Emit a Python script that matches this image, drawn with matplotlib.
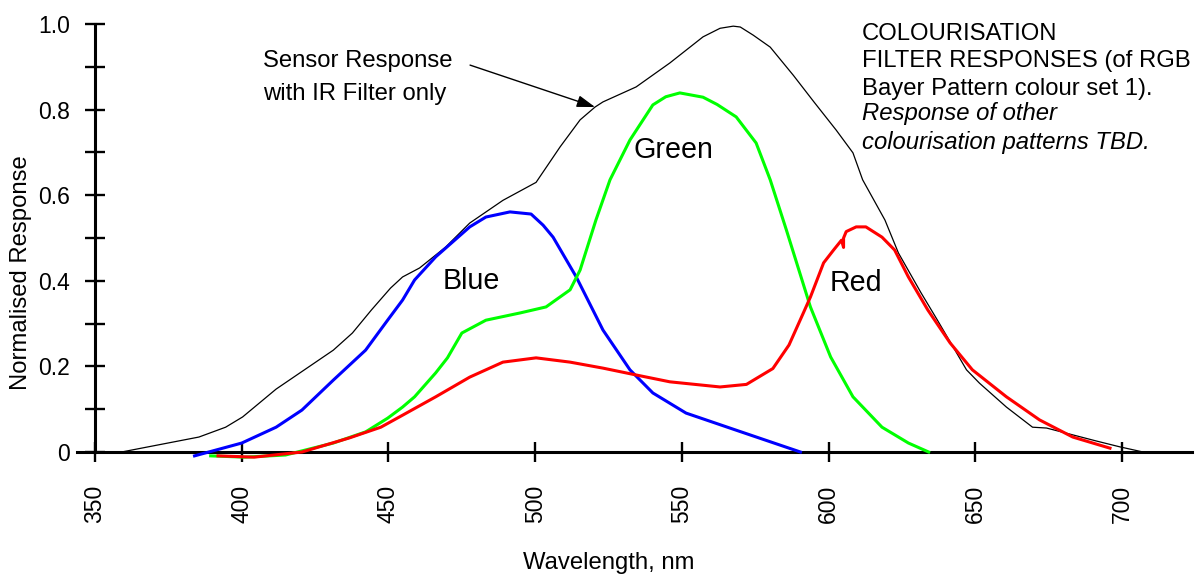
import matplotlib.pyplot as plt

plt.rcParams['font.family'] = ['Liberation Sans', 'DejaVu Sans']

# sensor response with IR filter only (nm, normalised)
sensor_wl = [359.0, 385.4, 394.5, 400.3, 411.7, 431.2, 437.7, 444.2, 450.7, 454.8,
             460.6, 469.5, 477.7, 489.0, 500.3, 508.5, 515.3, 520.4, 523.1, 534.4,
             545.9, 557.2, 563.0, 567.5, 569.9, 574.3, 580.1, 588.0, 595.0, 602.6,
             608.3, 611.6, 619.2, 623.8, 631.5, 637.1, 647.0, 651.4, 660.6, 669.5,
             674.3, 691.1, 699.3, 707.2]
sensor_resp = [0.0, 0.035, 0.058, 0.082, 0.147, 0.238, 0.278, 0.332, 0.383, 0.409,
               0.430, 0.479, 0.535, 0.588, 0.630, 0.713, 0.776, 0.806, 0.818, 0.853,
               0.909, 0.970, 0.990, 0.995, 0.993, 0.974, 0.946, 0.880, 0.818, 0.752,
               0.699, 0.636, 0.542, 0.465, 0.372, 0.308, 0.192, 0.161, 0.105, 0.058,
               0.056, 0.026, 0.012, 0.0]

blue_wl = [383.9, 400.0, 411.7, 420.5, 431.2, 442.2, 449.7, 454.8, 458.9, 466.1,
           477.7, 483.2, 491.4, 498.6, 502.7, 506.1, 514.0, 523.1, 532.3, 540.1,
           551.4, 568.5, 590.4]
blue_resp = [-0.009, 0.021, 0.058, 0.098, 0.168, 0.238, 0.308, 0.355, 0.402, 0.456,
             0.526, 0.549, 0.561, 0.556, 0.530, 0.502, 0.409, 0.285, 0.192, 0.138,
             0.091, 0.051, 0.0]

green_wl = [389.4, 401.0, 414.9, 431.2, 442.2, 449.7, 454.8, 458.9, 466.1, 470.1,
            475.0, 483.2, 494.9, 503.7, 511.9, 515.3, 520.7, 525.5, 532.3, 540.1,
            544.5, 549.3, 557.2, 562.0, 568.5, 575.3, 580.1, 585.6, 593.8, 600.7,
            608.3, 618.2, 627.2, 634.1]
green_resp = [-0.009, -0.012, -0.007, 0.021, 0.047, 0.079, 0.105, 0.129, 0.185, 0.220,
              0.278, 0.308, 0.325, 0.339, 0.379, 0.425, 0.542, 0.636, 0.729, 0.811,
              0.830, 0.839, 0.829, 0.812, 0.783, 0.722, 0.636, 0.519, 0.339, 0.222,
              0.129, 0.058, 0.021, 0.0]

red_wl = [391.9, 404.2, 420.5, 436.7, 447.4, 454.8, 466.1, 477.7, 489.0, 500.3,
          511.9, 523.1, 534.4, 545.9, 563.0, 572.0, 581.0, 586.5, 591.4, 593.8,
          598.3, 601.7, 604.4, 605.1, 605.1, 606.0, 609.4, 612.7, 618.2, 622.5,
          627.2, 633.8, 641.4, 649.0, 660.6, 671.9, 683.2, 695.9]
red_resp = [-0.009, -0.012, 0.0, 0.033, 0.058, 0.086, 0.129, 0.175, 0.210, 0.220,
            0.210, 0.196, 0.180, 0.164, 0.152, 0.158, 0.195, 0.250, 0.325, 0.362,
            0.442, 0.472, 0.495, 0.478, 0.500, 0.515, 0.526, 0.526, 0.502, 0.472,
            0.409, 0.332, 0.255, 0.192, 0.129, 0.075, 0.035, 0.009]

x_ticks = [350, 400, 450, 500, 550, 600, 650, 700]
y_ticks = [0, 0.2, 0.4, 0.6, 0.8, 1.0]
y_tick_labels = ['0', '0.2', '0.4', '0.6', '0.8', '1.0']
y_minor = [0.1, 0.3, 0.5, 0.7, 0.9]

fig = plt.figure(figsize=(12.03, 5.74), dpi=100)
ax = fig.add_axes([0, 0, 1, 1])
ax.set_xlim(317.6, 727.6)
ax.set_ylim(-0.285, 1.0561)
ax.patch.set_visible(False)

# axes drawn as two crossing lines
ax.spines['top'].set_visible(False)
ax.spines['right'].set_visible(False)
ax.spines['left'].set_position(('data', 350))
ax.spines['bottom'].set_position(('data', 0))
ax.spines['left'].set_bounds(0, 1)
ax.spines['bottom'].set_bounds(343.9, 723.9)
for s in ['left', 'bottom']:
    ax.spines[s].set_linewidth(2.2)

ax.set_xticks(x_ticks)
ax.set_xticklabels([str(v) for v in x_ticks], rotation=90)
ax.set_yticks(y_ticks)
ax.set_yticklabels(y_tick_labels)
ax.set_yticks(y_minor, minor=True)
ax.tick_params(axis='both', which='both', direction='inout', length=14.4,
               width=1.7, labelsize=16.5, colors='black')
ax.tick_params(axis='y', pad=10.8)
ax.tick_params(axis='x', pad=16.6)

ax.plot(sensor_wl, sensor_resp, color='black', lw=0.9, zorder=3)
ax.plot(blue_wl, blue_resp, color='#0000ff', lw=2.2, zorder=3)
ax.plot(green_wl, green_resp, color='#00ff00', lw=2.2, zorder=3)
ax.plot(red_wl, red_resp, color='#ff0000', lw=2.2, zorder=4)

ax.text(468.6, 0.381, 'Blue', fontsize=20.6, va='baseline', ha='left')
ax.text(533.4, 0.687, 'Green', fontsize=20.6, va='baseline', ha='left')
ax.text(600.5, 0.376, 'Red', fontsize=20.6, va='baseline', ha='left')

# multi-line texts: baseline anchor is the last line
ax.text(407.3, 0.8224, 'Sensor Response\nwith IR Filter only', fontsize=17.2,
        va='baseline', ha='left', linespacing=1.65)
ax.annotate('', xy=(520.4, 0.806), xytext=(477.8, 0.904),
            arrowprops=dict(arrowstyle='-|>,head_length=0.55,head_width=0.18',
                            color='black', lw=1.0, mutation_scale=20,
                            shrinkA=0, shrinkB=0))

ax.text(611.4, 0.8348, 'COLOURISATION\nFILTER RESPONSES (of RGB\nBayer Pattern colour set 1).',
        fontsize=17.2, va='baseline', ha='left', linespacing=1.32)
ax.text(611.4, 0.7080, 'Response of other\ncolourisation patterns TBD.',
        fontsize=17.2, va='baseline', ha='left', linespacing=1.32, style='italic')

ax.text(525.2, -0.2734, 'Wavelength, nm', fontsize=17.2, va='baseline', ha='center')
ax.text(324.8, 0.418, 'Normalised Response', fontsize=17.2, rotation=90,
        va='center', ha='center')

fig.savefig('out.png', dpi=100)
